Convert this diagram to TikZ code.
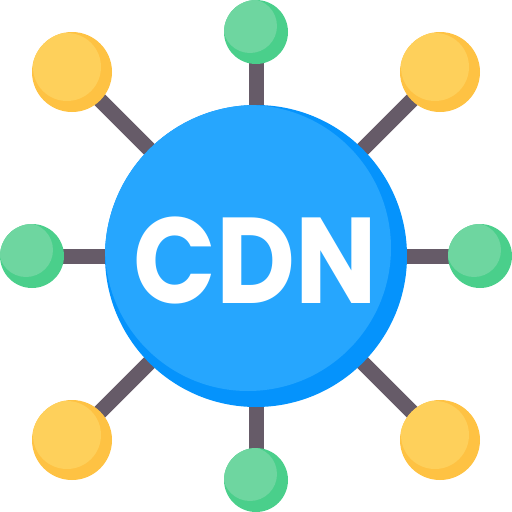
\documentclass[tikz,border=0pt]{standalone}
\usepackage{fontspec}
\setmainfont{Poppins}
\usetikzlibrary{backgrounds}
\definecolor{bluedark}{HTML}{0593FC}
\definecolor{bluelight}{HTML}{26A6FE}
\definecolor{yeldark}{HTML}{FEC243}
\definecolor{yellight}{HTML}{FED05B}
\definecolor{grndark}{HTML}{4ACF8B}
\definecolor{grnlight}{HTML}{6ED6A0}
\definecolor{linkgray}{HTML}{665B68}
\tikzset{
  hub/.style={circle, inner sep=0pt, minimum size=302, fill=bluedark,
    path picture={\fill[bluelight] ([shift={(-8,-8)}]path picture bounding box.center) circle (143);}},
  ybal/.style={circle, inner sep=0pt, minimum size=80, fill=yeldark,
    path picture={\fill[yellight] ([shift={(-5,-5)}]path picture bounding box.center) circle (34);}},
  gbal/.style={circle, inner sep=0pt, minimum size=64, fill=grndark,
    path picture={\fill[grnlight] ([shift={(-6,-6)}]path picture bounding box.center) circle (27);}},
  link/.style={draw=linkgray, line width=15},
  label/.style={font=\fontsize{122}{130}\selectfont\bfseries, text=white, xscale=0.89}
}
\begin{document}
\begin{tikzpicture}[x=1pt,y=-1pt]
\useasboundingbox (0,0) rectangle (512,512);
\node[hub] (c) at (256,256) {};
\node[label] (t) at (255,260) {CDN};
\node[gbal] (gt) at (256,32) {};
\node[gbal] (gb) at (256,480) {};
\node[gbal] (gl) at (32,256) {};
\node[gbal] (gr) at (480,256) {};
\node[ybal] (ytl) at (72,72) {};
\node[ybal] (ytr) at (440,72) {};
\node[ybal] (ybl) at (72,440) {};
\node[ybal] (ybr) at (440,440) {};
\begin{scope}[on background layer]
\foreach \n in {gt,gb,gl,gr,ytl,ytr,ybl,ybr}
  \draw[link] (c.center) -- (\n.center);
\end{scope}
\end{tikzpicture}
\end{document}
